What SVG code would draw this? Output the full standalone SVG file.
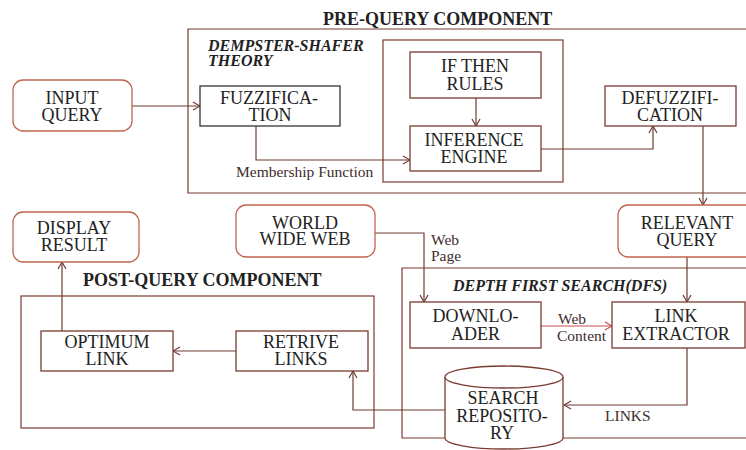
<svg xmlns="http://www.w3.org/2000/svg" width="746" height="450" viewBox="0 0 746 450">
<style>
text{font-family:"Liberation Serif","Times New Roman",serif;fill:#222;}
.n{font-size:18px;text-anchor:middle;}
.t{font-size:18px;font-weight:bold;}
.it{font-size:16px;font-weight:bold;font-style:italic;}
.s{font-size:15.5px;fill:#3e2c2c;}
.b{fill:#fff;stroke:#7a3b30;stroke-width:1.3;}
.r{fill:#fff;stroke:#c0644e;stroke-width:1.3;}
.k{fill:#fff;stroke:#333;stroke-width:1.3;}
.c{fill:none;stroke:#6e3a30;stroke-width:1.2;}
.cr{fill:none;stroke:#c0504d;stroke-width:1.2;}
.f{fill:none;stroke:#7a3b30;stroke-width:1.2;}
</style>
<defs>
<marker id="a" markerWidth="10" markerHeight="10" refX="9" refY="5" orient="auto" markerUnits="userSpaceOnUse"><path d="M2,1 L9,5 L2,9" fill="none" stroke="#6e3a30" stroke-width="1.2"/></marker>
<marker id="ar" markerWidth="10" markerHeight="10" refX="9" refY="5" orient="auto" markerUnits="userSpaceOnUse"><path d="M2,1 L9,5 L2,9" fill="none" stroke="#c0504d" stroke-width="1.2"/></marker>
</defs>
<rect width="746" height="450" fill="#fff"/>
<g id="pre-query">
<text class="t" x="323" y="25">PRE-QUERY COMPONENT</text>
<path class="f" d="M746,29 H188 V193 H746"/>
<text class="it" x="208" y="51">DEMPSTER-SHAFER</text>
<text class="it" x="208" y="66">THEORY</text>
<rect class="f" x="383" y="40" width="180" height="142"/>
</g>
<g id="post-query">
<text class="t" x="83" y="286">POST-QUERY COMPONENT</text>
<rect class="f" x="21" y="296" width="353" height="132"/>
</g>
<g id="dfs">
<path class="f" d="M746,268 H402 V438 H746"/>
<text class="it" x="453" y="291">DEPTH FIRST SEARCH(DFS)</text>
</g>
<g id="connectors">
<path class="c" d="M132,106 H200" marker-end="url(#a)"/>
<path class="c" d="M256,126 V160 H410" marker-end="url(#a)"/>
<path class="c" d="M476,98 V126" marker-end="url(#a)"/>
<path class="c" d="M541,149 H653 V126" marker-end="url(#a)"/>
<path class="c" d="M703,126 V205" marker-end="url(#a)"/>
<path class="c" d="M375,233 H424 V302" marker-end="url(#a)"/>
<path class="c" d="M687,257 V302" marker-end="url(#a)"/>
<path class="cr" d="M541,326 H612" marker-end="url(#ar)"/>
<path class="c" d="M687,348 V405 H564" marker-end="url(#a)"/>
<path class="c" d="M445,410 H353 V371" marker-end="url(#a)"/>
<path class="c" d="M236,351 H173" marker-end="url(#a)"/>
<path class="c" d="M62,331 V262" marker-end="url(#a)"/>
<text class="s" x="236" y="177">Membership Function</text>
<text class="s" x="431" y="245">Web</text>
<text class="s" x="431" y="261">Page</text>
<text class="s" x="558" y="324">Web</text>
<text class="s" x="557" y="341">Content</text>
<text class="s" x="605" y="421">LINKS</text>
</g>
<g id="input-query">
<rect class="r" x="13" y="80" width="119" height="51" rx="10"/>
<text class="n" x="72" y="103.5">INPUT</text>
<text class="n" x="72" y="120.5">QUERY</text>
</g>
<g id="fuzzification">
<rect class="k" x="200" y="86" width="140" height="40"/>
<text class="n" x="269" y="103.5">FUZZIFICA-</text>
<text class="n" x="270" y="120.5">TION</text>
</g>
<g id="if-then-rules">
<rect class="b" x="410" y="52" width="131" height="46"/>
<text class="n" x="475" y="72">IF THEN</text>
<text class="n" x="475" y="89.5">RULES</text>
</g>
<g id="inference-engine">
<rect class="b" x="410" y="126" width="131" height="45"/>
<text class="n" x="474" y="145.5">INFERENCE</text>
<text class="n" x="474" y="162.5">ENGINE</text>
</g>
<g id="defuzzification">
<rect class="b" x="605" y="86" width="131" height="40"/>
<text class="n" x="670" y="103.5">DEFUZZIFI-</text>
<text class="n" x="670" y="120.5">CATION</text>
</g>
<g id="relevant-query">
<rect class="r" x="618" y="205" width="140" height="52" rx="10"/>
<text class="n" x="687" y="228.5">RELEVANT</text>
<text class="n" x="687" y="245.5">QUERY</text>
</g>
<g id="world-wide-web">
<rect class="r" x="236" y="205" width="139" height="52" rx="10"/>
<text class="n" x="305" y="228.5">WORLD</text>
<text class="n" x="305" y="245">WIDE WEB</text>
</g>
<g id="display-result">
<rect class="r" x="13" y="212" width="126" height="50" rx="10"/>
<text class="n" x="74" y="233.5">DISPLAY</text>
<text class="n" x="74" y="250.5">RESULT</text>
</g>
<g id="optimum-link">
<rect class="b" x="41" y="331" width="132" height="40"/>
<text class="n" x="107" y="348">OPTIMUM</text>
<text class="n" x="107" y="365">LINK</text>
</g>
<g id="retrive-links">
<rect class="b" x="236" y="331" width="132" height="40"/>
<text class="n" x="301" y="348">RETRIVE</text>
<text class="n" x="301" y="365">LINKS</text>
</g>
<g id="downloader">
<rect class="b" x="410" y="302" width="131" height="46"/>
<text class="n" x="475.5" y="322">DOWNLO-</text>
<text class="n" x="475.5" y="340">ADER</text>
</g>
<g id="link-extractor">
<rect class="b" x="612" y="302" width="133" height="46"/>
<text class="n" x="676" y="322">LINK</text>
<text class="n" x="676" y="340">EXTRACTOR</text>
</g>
<g id="search-repository">
<path class="b" d="M445,377 V438 A59,11 0 0 0 563,438 V377"/>
<ellipse class="b" cx="504" cy="377" rx="59" ry="11"/>
<text class="n" x="503" y="403.5">SEARCH</text>
<text class="n" x="502" y="421.5">REPOSITO-</text>
<text class="n" x="502" y="439">RY</text>
</g>
</svg>
